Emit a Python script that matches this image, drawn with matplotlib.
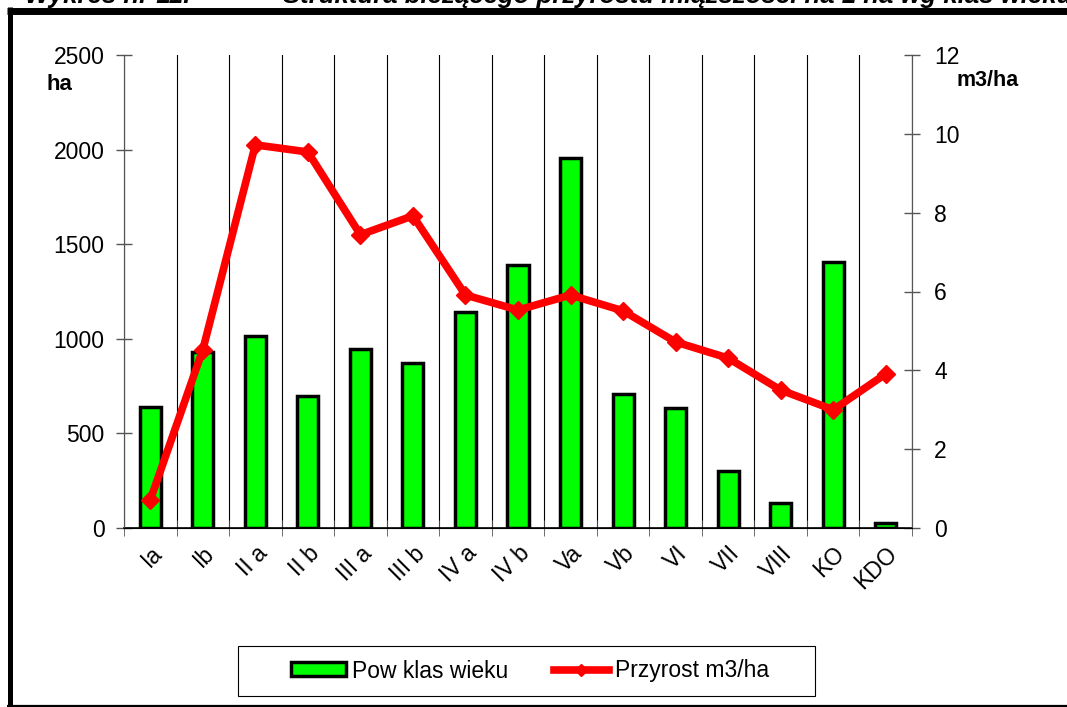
import matplotlib
matplotlib.use("Agg")
import matplotlib.pyplot as plt
from matplotlib.patches import Rectangle, Patch
from matplotlib.lines import Line2D

plt.rcParams['font.family'] = ['Liberation Sans', 'DejaVu Sans']

categories = ["Ia", "Ib", "II a", "II b", "III a", "III b", "IV a", "IV b",
              "Va", "Vb", "VI", "VII", "VIII", "KO", "KDO"]
area_ha = [640, 930, 1015, 698, 947, 873, 1143, 1391, 1957, 709, 635, 302, 132, 1407, 26]
increment = [0.71, 4.52, 9.72, 9.54, 7.44, 7.92, 5.91, 5.53, 5.91, 5.51, 4.72, 4.31, 3.50, 3.00, 3.91]
left_ticks = [0, 500, 1000, 1500, 2000, 2500]
right_ticks = [0, 2, 4, 6, 8, 10, 12]

W, H = 1067, 707
FS = 16.5
fig = plt.figure(figsize=(W / 100, H / 100), dpi=100)

def fx(px):
    return px / W

def fy(py):
    return 1 - py / H

# outer frame (right side lies beyond the image)
fig.add_artist(Line2D([fx(7), 1.0], [fy(10.5), fy(10.5)], transform=fig.transFigure,
                      color='black', linewidth=5.0, solid_capstyle='butt'))
fig.add_artist(Line2D([fx(9.5), fx(9.5)], [fy(7), fy(706)], transform=fig.transFigure,
                      color='black', linewidth=3.6, solid_capstyle='butt'))
fig.add_artist(Line2D([fx(7), 1.0], [fy(705.5), fy(705.5)], transform=fig.transFigure,
                      color='black', linewidth=1.6, solid_capstyle='butt'))

# title, cut by the top edge as in the reference
fig.text(fx(25), fy(3), "Wykres nr 11.", fontsize=18.5, fontweight='bold',
         fontstyle='italic', va='baseline', ha='left')
fig.text(fx(283), fy(3), "Struktura bieżącego przyrostu miąższości na 1 ha wg klas wieku",
         fontsize=18.5, fontweight='bold', fontstyle='italic', va='baseline', ha='left')

ax = fig.add_axes([fx(124), fy(528), (912 - 124) / W, (528 - 55) / H])
x = list(range(len(categories)))
ax.bar(x, area_ha, width=0.4, color='#00FF00', edgecolor='black', linewidth=2.5, zorder=3)
ax.set_xlim(-0.5, len(categories) - 0.5)
ax.set_ylim(0, 2500)
ax.set_yticks(left_ticks)
ax.set_yticklabels([str(v) for v in left_ticks], fontsize=FS)
ax.tick_params(axis='y', direction='inout', length=12, width=1, color='#555555', pad=8)

# vertical separators at category boundaries
for b in range(len(categories) + 1):
    ax.axvline(b - 0.5, color='black', linewidth=0.8, zorder=1)

ax.set_xticks(x)
ax.set_xticklabels(categories, rotation=45, ha='right', rotation_mode='anchor', fontsize=FS)
ax.tick_params(axis='x', length=0, pad=10)
ax.set_xticks([b - 0.5 for b in range(len(categories) + 1)], minor=True)
ax.tick_params(axis='x', which='minor', direction='inout', length=12, color='#555555')

ax.spines['top'].set_visible(False)
ax.spines['left'].set_color('#555555')
ax.spines['right'].set_color('#555555')
ax.spines['bottom'].set_color('black')
ax.spines['bottom'].set_linewidth(1.2)

ax2 = ax.twinx()
ax2.plot(x, increment, color='red', linewidth=5.5, marker='D', markersize=9.5,
         markeredgecolor='red', zorder=4, solid_joinstyle='miter')
ax2.set_ylim(0, 12)
ax2.set_yticks(right_ticks)
ax2.set_yticklabels([str(v) for v in right_ticks], fontsize=FS)
ax2.tick_params(axis='y', direction='inout', length=12, width=1, color='#555555', pad=10)
ax2.spines['top'].set_visible(False)
ax2.spines['right'].set_color('#555555')
ax2.spines['left'].set_color('#555555')

fig.text(fx(47), fy(84), "ha", fontsize=16, fontweight='bold', va='center', ha='left')
fig.text(fx(957), fy(81), "m3/ha", fontsize=15.5, fontweight='bold', va='center', ha='left')

# legend frame
fig.add_artist(Rectangle((fx(238), fy(696)), (815 - 238) / W, (696 - 646) / H,
                         transform=fig.transFigure, fill=False, edgecolor='black',
                         linewidth=0.8))
handles = [Patch(facecolor='#00FF00', edgecolor='black', linewidth=2.5, label='Pow klas wieku'),
           Line2D([0], [0], color='red', linewidth=5.5, marker='D', markersize=6,
                  label='Przyrost m3/ha')]
fig.legend(handles=handles, loc='center', bbox_to_anchor=(fx(530), fy(671)),
           ncol=2, fontsize=FS, frameon=False, columnspacing=2.0,
           handlelength=2.4, handleheight=0.55, handletextpad=0.25)

fig.savefig("out.png", dpi=100)
